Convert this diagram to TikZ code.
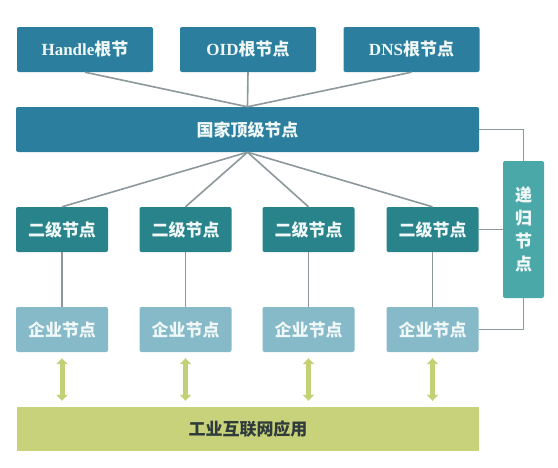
\documentclass[tikz,border=0pt]{standalone}
\usepackage{fontspec}
\setmainfont{Liberation Serif}
\newfontfamily\cjk{Noto Sans CJK SC}
\usetikzlibrary{arrows.meta}
\newcommand{\zh}[1]{{\cjk\bfseries #1}}
\definecolor{rootblue}{RGB}{43,126,157}
\definecolor{secteal}{RGB}{40,132,138}
\definecolor{recteal}{RGB}{75,168,168}
\definecolor{entblue}{RGB}{134,186,200}
\definecolor{appgreen}{RGB}{200,210,122}
\definecolor{arrgreen}{RGB}{196,208,118}
\definecolor{linegray}{RGB}{140,152,156}
\definecolor{apptext}{RGB}{48,60,60}
\definecolor{boxtext}{RGB}{240,247,247}
\begin{document}
\begin{tikzpicture}[x=1pt,y=-1pt,
  box/.style={draw=none, rounded corners=2pt, inner sep=0pt, text=boxtext,
    font=\fontsize{17}{20}\selectfont\bfseries, minimum height=45pt},
  rootbox/.style={box, fill=rootblue, minimum width=136pt},
  secbox/.style={box, fill=secteal, minimum width=92pt},
  entbox/.style={box, fill=entblue, minimum width=92pt},
  conn/.style={draw=linegray, line width=1.6pt},
  dbl/.style={draw=arrgreen, line width=5pt,
    {Triangle[width=11pt,length=6pt]}-{Triangle[width=11pt,length=6pt]}}
]
\useasboundingbox (0,0) rectangle (558,467);
\fill[white] (0,0) rectangle (558,467);

% root nodes
\node[rootbox] (handle) at (85,49.5) {Handle\zh{根节}};
\node[rootbox] (oid) at (248,49.5) {OID\zh{根节点}};
\node[rootbox] (dns) at (411.5,49.5) {DNS\zh{根节点}};

% national top-level node
\node[box, fill=rootblue, minimum width=463pt] (nat) at (247.5,129.5) {\zh{国家顶级节点}};

% secondary nodes
\node[secbox] (s1) at (62,229.5) {\zh{二级节点}};
\node[secbox] (s2) at (185.5,229.5) {\zh{二级节点}};
\node[secbox] (s3) at (308.5,229.5) {\zh{二级节点}};
\node[secbox] (s4) at (432.5,229.5) {\zh{二级节点}};

% enterprise nodes
\node[entbox] (e1) at (62,329.5) {\zh{企业节点}};
\node[entbox] (e2) at (185.5,329.5) {\zh{企业节点}};
\node[entbox] (e3) at (308.5,329.5) {\zh{企业节点}};
\node[entbox] (e4) at (432.5,329.5) {\zh{企业节点}};

% recursive node
\node[box, fill=recteal, minimum width=41pt, minimum height=137pt, align=center,
  font=\fontsize{17}{23}\selectfont\bfseries] (rec) at (523.5,229.5)
  {\zh{递}\\\zh{归}\\\zh{节}\\\zh{点}};

% application bar
\node[box, fill=appgreen, text=apptext, minimum width=462pt, minimum height=44pt, rounded corners=0pt] (app) at (248,429) {\zh{工业互联网应用}};

% connectors
\draw[conn] (handle.south) -- (nat.north);
\draw[conn] (oid.south) -- (nat.north);
\draw[conn] (dns.south) -- (nat.north);
\foreach \s in {s1,s2,s3,s4} \draw[conn] (nat.south) -- (\s.north);
\draw[conn] (s1.south) -- (e1.north);
\draw[conn] (s2.south) -- (e2.north);
\draw[conn] (s3.south) -- (e3.north);
\draw[conn] (s4.south) -- (e4.north);
\draw[conn] (nat.east) -| (rec.north);
\draw[conn] (s4.east) -- (rec.west);
\draw[conn] (rec.south) |- (e4.east);

% double arrows
\foreach \e in {e1,e2,e3,e4}
  \draw[dbl, shorten <=6pt, shorten >=6pt] (\e.south) -- (\e.south |- app.north);
\end{tikzpicture}
\end{document}
